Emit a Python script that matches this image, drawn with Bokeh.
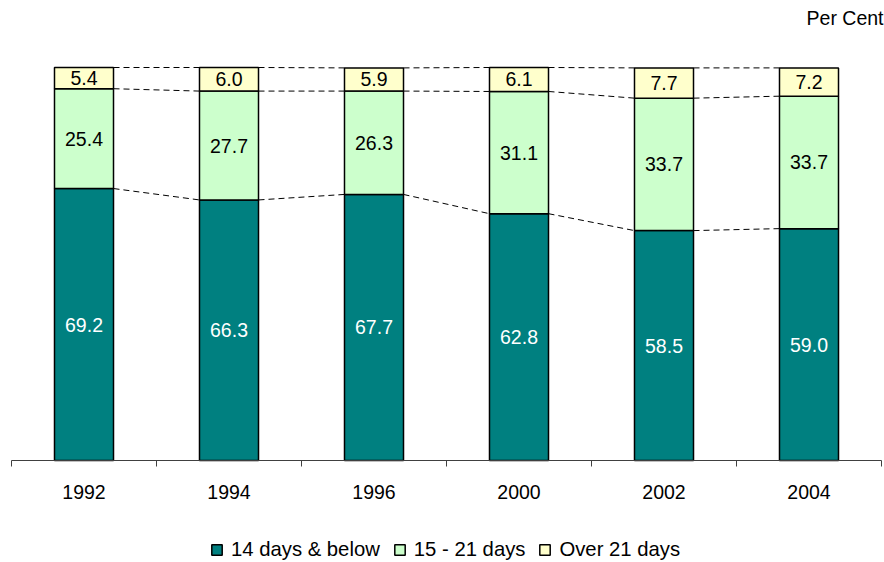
from bokeh.plotting import figure
from bokeh.models import ColumnDataSource, Range1d, Legend, LegendItem
from bokeh.core.properties import value
from bokeh.embed import file_html
from bokeh.resources import INLINE

# Distribution of duration (per cent) by survey year
years = ["1992", "1994", "1996", "2000", "2002", "2004"]
days_14_below = [69.2, 66.3, 67.7, 62.8, 58.5, 59.0]
days_15_21 = [25.4, 27.7, 26.3, 31.1, 33.7, 33.7]
days_over_21 = [5.4, 6.0, 5.9, 6.1, 7.7, 7.2]
series_names = ["14 days & below", "15 - 21 days", "Over 21 days"]
series_colors = ["#008080", "#CCFFCC", "#FFFFCC"]
label_colors = ["white", "black", "black"]

W, H = 884, 562
FONT = "Liberation Sans"
FS = "19.5px"
LEGEND_FS = "20.3px"

# pixel geometry of the frame (frame covers the whole canvas)
x0_px, x_unit_px = 11, 145.0       # category slot width in px
y0_px, y_unit_px = 460, 3.93       # px per per-cent
bar_w = 0.407

n = len(years)
xc = [i + 0.5 for i in range(n)]

p = figure(width=W, height=H, output_backend="svg", toolbar_location=None,
           x_axis_location=None, y_axis_location=None, min_border=0,
           x_range=Range1d(-x0_px / x_unit_px, (W - x0_px) / x_unit_px),
           y_range=Range1d(-(H - y0_px) / y_unit_px, y0_px / y_unit_px))
p.grid.visible = False
p.outline_line_color = None
p.background_fill_color = "white"
p.border_fill_color = "white"

src = ColumnDataSource(dict(x=xc, a=days_14_below, b=days_15_21, c=days_over_21))
renderers = p.vbar_stack(["a", "b", "c"], x="x", width=bar_w, source=src,
                         fill_color=series_colors, line_color="black", line_width=1.5)

# cumulative boundaries for each series
series = [days_14_below, days_15_21, days_over_21]
bottoms = [[0.0] * n]
for s in series:
    bottoms.append([b + v for b, v in zip(bottoms[-1], s)])

# dashed series lines linking the stack boundaries of neighbouring bars
sx0, sy0, sx1, sy1 = [], [], [], []
for level in bottoms[1:]:
    for i in range(n - 1):
        sx0.append(xc[i] + bar_w / 2)
        sx1.append(xc[i + 1] - bar_w / 2)
        sy0.append(level[i])
        sy1.append(level[i + 1])
p.segment(sx0, sy0, sx1, sy1, line_color="black", line_width=1, line_dash="6 4")

# value labels centred in each segment
for k, s in enumerate(series):
    mids = [b + v / 2 for b, v in zip(bottoms[k], s)]
    p.text(x=xc, y=mids, text=[f"{v:.1f}" for v in s], text_align="center",
           text_baseline="middle", text_font=value(FONT), text_font_size=FS,
           text_color=label_colors[k])

# category axis: baseline, ticks between categories, year labels
p.segment([0], [0], [n], [0], line_color="#404040", line_width=1)
tick_len = 6 / y_unit_px
p.segment(list(range(n + 1)), [0] * (n + 1), list(range(n + 1)), [-tick_len] * (n + 1),
          line_color="#404040", line_width=1)
p.text(x=xc, y=[-31 / y_unit_px] * n, text=years, text_align="center",
       text_baseline="middle", text_font=value(FONT), text_font_size=FS,
       text_color="black")

# unit label
p.text(x=[(W - 1 - x0_px) / x_unit_px], y=[(y0_px - 17) / y_unit_px], text=["Per Cent"],
       text_align="right", text_baseline="middle", text_font=value(FONT),
       text_font_size=FS, text_color="black")

legend = Legend(items=[LegendItem(label=nm, renderers=[r]) for nm, r in zip(series_names, renderers)],
                orientation="horizontal", location=(210, 1), glyph_width=13, glyph_height=13,
                label_standoff=8, spacing=13, padding=0, margin=0,
                border_line_color=None, background_fill_alpha=0,
                label_text_font=FONT, label_text_font_size=LEGEND_FS,
                label_text_color="black")
p.add_layout(legend)

open("out.html", "w").write(file_html(p, INLINE))
